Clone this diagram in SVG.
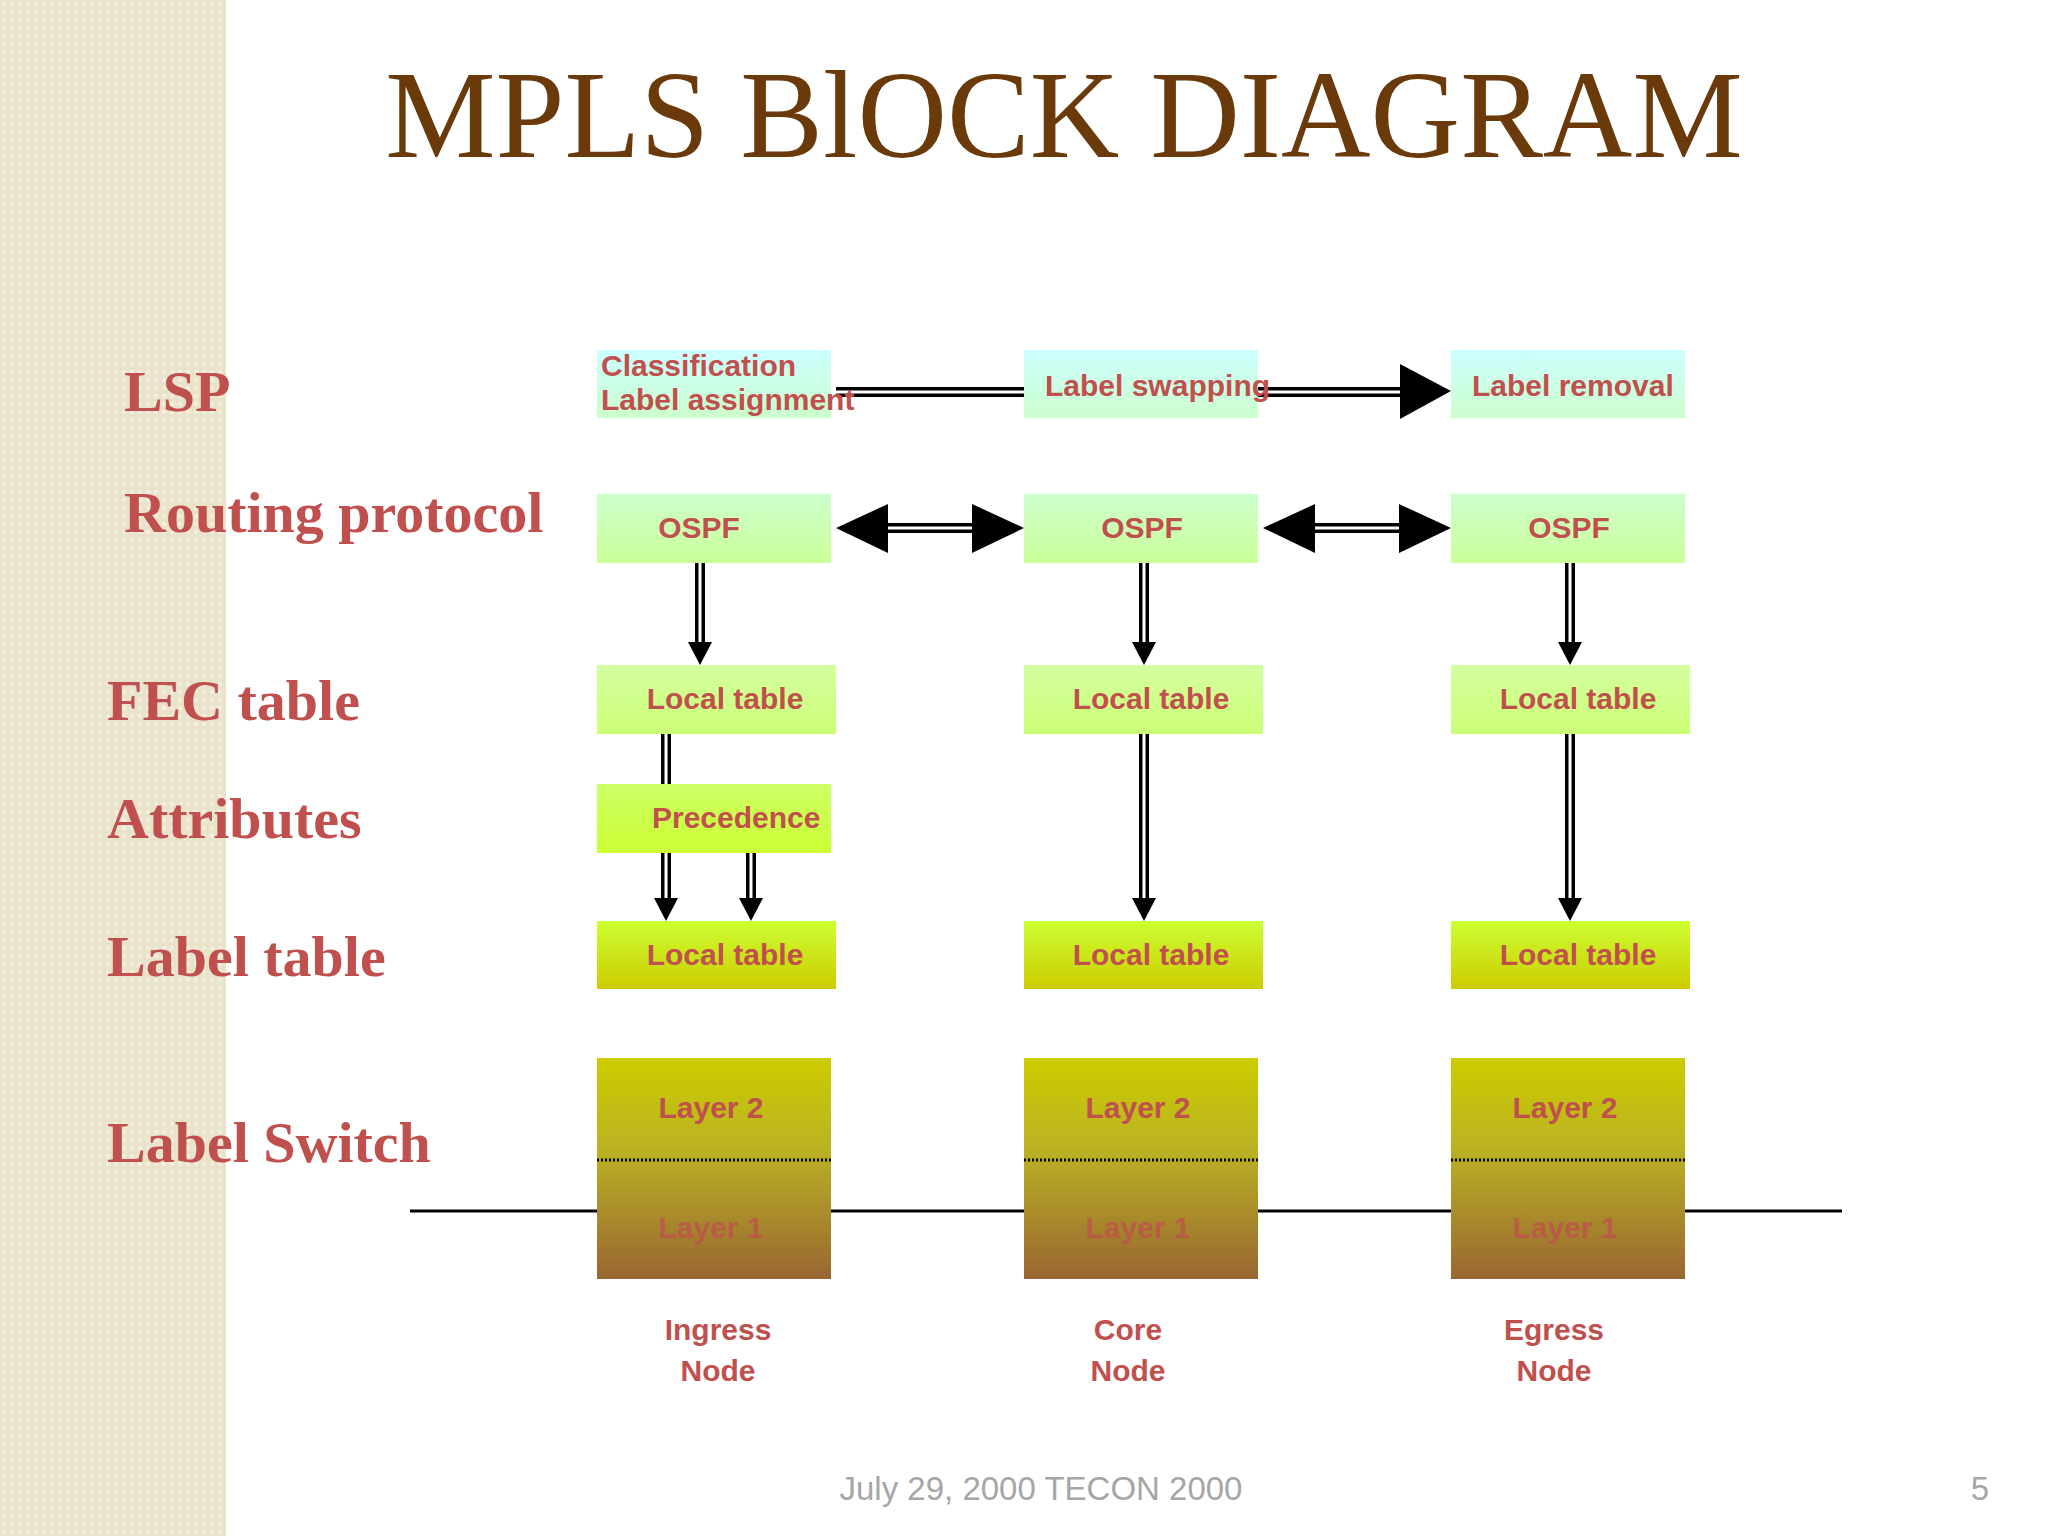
<svg xmlns="http://www.w3.org/2000/svg" width="2048" height="1536" viewBox="0 0 2048 1536">
<defs>
<pattern id="pt" width="8" height="8" patternUnits="userSpaceOnUse"><rect width="8" height="8" fill="#EAE3CC"/><circle cx="4" cy="4" r="2.2" fill="#F3EEDD"/></pattern>
<linearGradient id="g1" x1="0" y1="0" x2="0" y2="1"><stop offset="0" stop-color="#CCFFFF"/><stop offset="1" stop-color="#CCFFCC"/></linearGradient>
<linearGradient id="g2" x1="0" y1="0" x2="0" y2="1"><stop offset="0" stop-color="#CCFFCC"/><stop offset="1" stop-color="#CCFF99"/></linearGradient>
<linearGradient id="g3" x1="0" y1="0" x2="0" y2="1"><stop offset="0" stop-color="#D4FFA0"/><stop offset="1" stop-color="#CCFF77"/></linearGradient>
<linearGradient id="g4" x1="0" y1="0" x2="0" y2="1"><stop offset="0" stop-color="#CCFF66"/><stop offset="1" stop-color="#CCFF33"/></linearGradient>
<linearGradient id="g5" x1="0" y1="0" x2="0" y2="1"><stop offset="0" stop-color="#CCFF33"/><stop offset="1" stop-color="#CCCC00"/></linearGradient>
<linearGradient id="g6" x1="0" y1="0" x2="0" y2="1"><stop offset="0" stop-color="#CCCC00"/><stop offset="0.4" stop-color="#BBB322"/><stop offset="1" stop-color="#996633"/></linearGradient>
</defs>
<style>
.bt{font-family:"Liberation Sans",Arial,sans-serif;font-weight:bold;font-size:30px;fill:#C0504D}
.lt{font-family:"Liberation Serif","Times New Roman",serif;font-weight:bold;font-size:58px;fill:#C0504D}
.dl{stroke:#000;stroke-width:10;fill:none}
.dw{stroke:#fff;stroke-width:3;fill:none}
.hd{fill:#000}
</style>
<rect width="2048" height="1536" fill="#fff"/>
<rect width="226" height="1536" fill="url(#pt)"/>
<text x="1064" y="157" text-anchor="middle" font-family="Liberation Serif,'Times New Roman',serif" font-size="124" fill="#6B3A0A">MPLS  BlOCK DIAGRAM</text>
<g id="leftlabels">
<text class="lt" x="124" y="411">LSP</text>
<text class="lt" x="124" y="532">Routing protocol</text>
<text class="lt" x="107" y="720">FEC table</text>
<text class="lt" x="107" y="838">Attributes</text>
<text class="lt" x="107" y="976">Label table</text>
<text class="lt" x="107" y="1162">Label Switch</text>
</g>
<g id="connectors">
<line x1="410" y1="1211" x2="1842" y2="1211" stroke="#000" stroke-width="3"/>
<path class="dl" d="M836 392H1024 M1258 392H1402"/><path class="dw" d="M836 392H1024 M1258 392H1402"/>
<polygon class="hd" points="1400,364 1451,391 1400,419"/>
<path class="dl" d="M880 528H980 M1305 528H1405"/><path class="dw" d="M880 528H980 M1305 528H1405"/>
<polygon class="hd" points="836,528 888,504 888,553"/><polygon class="hd" points="1024,528 972,504 972,553"/>
<polygon class="hd" points="1263,528 1315,504 1315,553"/><polygon class="hd" points="1451,528 1399,504 1399,553"/>
<path class="dl" d="M700 563V646 M1144 563V646 M1570 563V646 M666 734V784 M666 853V902 M751 853V902 M1144 734V902 M1570 734V902" stroke-width="8"/>
<path class="dw" d="M700 563V646 M1144 563V646 M1570 563V646 M666 734V784 M666 853V902 M751 853V902 M1144 734V902 M1570 734V902" stroke-width="3"/>
<polygon class="hd" points="688,642 712,642 700,665"/><polygon class="hd" points="1132,642 1156,642 1144,665"/><polygon class="hd" points="1558,642 1582,642 1570,665"/>
<polygon class="hd" points="654,898 678,898 666,921"/><polygon class="hd" points="739,898 763,898 751,921"/><polygon class="hd" points="1132,898 1156,898 1144,921"/><polygon class="hd" points="1558,898 1582,898 1570,921"/>
</g>
<g id="n-class"><rect x="597" y="350" width="234" height="68" fill="url(#g1)"/><text class="bt" x="601" y="376" font-size="28">Classification</text><text class="bt" x="601" y="410" font-size="28">Label assignment</text></g>
<g id="n-swap"><rect x="1024" y="350" width="234" height="68" fill="url(#g1)"/><text class="bt" x="1045" y="396" font-size="28">Label swapping</text></g>
<g id="n-remove"><rect x="1451" y="350" width="234" height="68" fill="url(#g1)"/><text class="bt" x="1472" y="396" font-size="28">Label removal</text></g>
<g id="n-ospf1"><rect x="597" y="494" width="234" height="69" fill="url(#g2)"/><text class="bt" x="699" y="538" text-anchor="middle" font-size="32">OSPF</text></g>
<g id="n-ospf2"><rect x="1024" y="494" width="234" height="69" fill="url(#g2)"/><text class="bt" x="1142" y="538" text-anchor="middle" font-size="32">OSPF</text></g>
<g id="n-ospf3"><rect x="1451" y="494" width="234" height="69" fill="url(#g2)"/><text class="bt" x="1569" y="538" text-anchor="middle" font-size="32">OSPF</text></g>
<g id="n-fec1"><rect x="597" y="665" width="239" height="69" fill="url(#g3)"/><text class="bt" x="725" y="709" text-anchor="middle" font-size="32">Local table</text></g>
<g id="n-fec2"><rect x="1024" y="665" width="239" height="69" fill="url(#g3)"/><text class="bt" x="1151" y="709" text-anchor="middle" font-size="32">Local table</text></g>
<g id="n-fec3"><rect x="1451" y="665" width="239" height="69" fill="url(#g3)"/><text class="bt" x="1578" y="709" text-anchor="middle" font-size="32">Local table</text></g>
<g id="n-prec"><rect x="597" y="784" width="234" height="69" fill="url(#g4)"/><text class="bt" x="652" y="828" font-size="32">Precedence</text></g>
<g id="n-lab1"><rect x="597" y="921" width="239" height="68" fill="url(#g5)"/><text class="bt" x="725" y="965" text-anchor="middle" font-size="32">Local table</text></g>
<g id="n-lab2"><rect x="1024" y="921" width="239" height="68" fill="url(#g5)"/><text class="bt" x="1151" y="965" text-anchor="middle" font-size="32">Local table</text></g>
<g id="n-lab3"><rect x="1451" y="921" width="239" height="68" fill="url(#g5)"/><text class="bt" x="1578" y="965" text-anchor="middle" font-size="32">Local table</text></g>
<g id="n-sw1"><rect x="597" y="1058" width="234" height="221" fill="url(#g6)"/><line x1="597" y1="1160" x2="831" y2="1160" stroke="#000" stroke-width="3" stroke-dasharray="2,2"/><text class="bt" x="711" y="1118" text-anchor="middle" font-size="32">Layer 2</text><text class="bt" x="711" y="1238" text-anchor="middle" font-size="32" opacity="0.75">Layer 1</text></g>
<g id="n-sw2"><rect x="1024" y="1058" width="234" height="221" fill="url(#g6)"/><line x1="1024" y1="1160" x2="1258" y2="1160" stroke="#000" stroke-width="3" stroke-dasharray="2,2"/><text class="bt" x="1138" y="1118" text-anchor="middle" font-size="32">Layer 2</text><text class="bt" x="1138" y="1238" text-anchor="middle" font-size="32" opacity="0.75">Layer 1</text></g>
<g id="n-sw3"><rect x="1451" y="1058" width="234" height="221" fill="url(#g6)"/><line x1="1451" y1="1160" x2="1685" y2="1160" stroke="#000" stroke-width="3" stroke-dasharray="2,2"/><text class="bt" x="1565" y="1118" text-anchor="middle" font-size="32">Layer 2</text><text class="bt" x="1565" y="1238" text-anchor="middle" font-size="32" opacity="0.75">Layer 1</text></g>
<g id="nodelabels">
<text class="bt" x="718" y="1340" text-anchor="middle" font-size="32">Ingress</text><text class="bt" x="718" y="1381" text-anchor="middle" font-size="32">Node</text>
<text class="bt" x="1128" y="1340" text-anchor="middle" font-size="32">Core</text><text class="bt" x="1128" y="1381" text-anchor="middle" font-size="32">Node</text>
<text class="bt" x="1554" y="1340" text-anchor="middle" font-size="32">Egress</text><text class="bt" x="1554" y="1381" text-anchor="middle" font-size="32">Node</text>
</g>
<text x="1041" y="1500" text-anchor="middle" font-family="Liberation Sans,Arial,sans-serif" font-size="33" fill="#A6A6A6">July 29, 2000   TECON 2000</text>
<text x="1980" y="1500" text-anchor="middle" font-family="Liberation Sans,Arial,sans-serif" font-size="33" fill="#A6A6A6">5</text>
</svg>
